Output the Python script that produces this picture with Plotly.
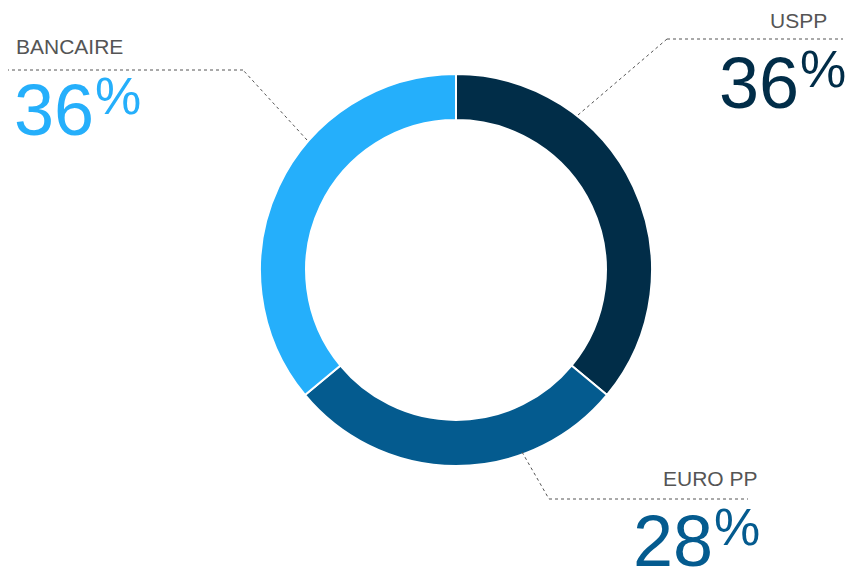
import plotly.graph_objects as go

W, H = 847, 571

# données
labels = ["USPP", "EURO PP", "BANCAIRE"]
values = [36, 28, 36]
colors = ["#012d48", "#045b8f", "#25affb"]


def px(x):
    return x / W


def py(y):
    return 1 - y / H


fig = go.Figure()

# anneau
cx, cy, r = 456, 270, 196
fig.add_trace(go.Pie(
    labels=labels,
    values=values,
    hole=0.765,
    sort=False,
    direction="clockwise",
    rotation=0,
    marker=dict(colors=colors, line=dict(color="white", width=2)),
    textinfo="none",
    hoverinfo="label+percent",
    showlegend=False,
    domain=dict(x=[px(cx - r), px(cx + r)], y=[py(cy + r), py(cy - r)]),
))

# lignes de rappel (pointillés)
leaders = {
    "USPP": [(578, 115), (667, 39), (843, 39)],
    "EURO PP": [(522, 452), (549, 499), (748, 499)],
    "BANCAIRE": [(307, 140), (243, 70), (8, 70)],
}
for pts in leaders.values():
    for (x0, y0), (x1, y1) in zip(pts[:-1], pts[1:]):
        fig.add_shape(type="line", xref="paper", yref="paper",
                      x0=px(x0), y0=py(y0), x1=px(x1), y1=py(y1),
                      line=dict(color="#555555", width=1, dash="dot"))

# étiquettes : (x nom, y nom, ancrage, x jonction chiffre/%, y chiffre, y %)
label_pos = {
    "USPP": (829, 20, "right", 800, 83, 69),
    "EURO PP": (760, 478, "right", 714, 541, 527),
    "BANCAIRE": (14, 46, "left", 95, 110, 96),
}
font = "Liberation Sans, Arial, sans-serif"
for lab, val, col in zip(labels, values, colors):
    lx, ly, anchor, jx, ny, py_pct = label_pos[lab]
    fig.add_annotation(x=px(lx), y=py(ly), xref="paper", yref="paper",
                       text=lab, showarrow=False, xanchor=anchor, yanchor="middle",
                       font=dict(family=font, size=21, color="#555555"))
    fig.add_annotation(x=px(jx), y=py(ny), xref="paper", yref="paper",
                       text=str(val), showarrow=False, xanchor="right", yanchor="middle",
                       height=56, borderpad=0,
                       font=dict(family=font, size=72, color=col))
    fig.add_annotation(x=px(jx), y=py(py_pct), xref="paper", yref="paper",
                       text="%", showarrow=False, xanchor="left", yanchor="middle",
                       width=44, height=40, borderpad=0,
                       font=dict(family=font, size=52, color=col))

fig.update_layout(
    width=W, height=H,
    margin=dict(l=0, r=0, t=0, b=0),
    paper_bgcolor="white",
    plot_bgcolor="white",
)

fig.write_html(
    "out.html",
    config={"displayModeBar": False},
    post_script="document.body.style.margin='0';document.body.style.overflow='hidden';",
)
